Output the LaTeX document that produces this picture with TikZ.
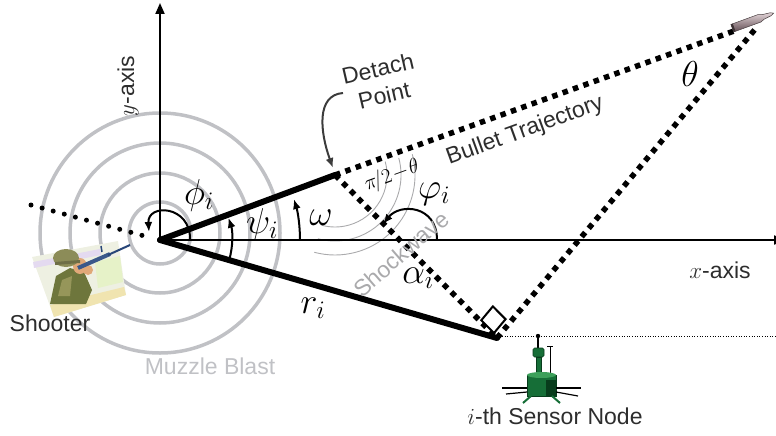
\RequirePackage{fix-cm}
\documentclass[tikz,border=0pt]{standalone}
\usepackage{fontspec}
\setmainfont{Liberation Sans}
\usetikzlibrary{arrows.meta,calc}

\definecolor{blastgray}{RGB}{192,193,197}
\definecolor{wavegray}{RGB}{170,170,172}
\definecolor{labelink}{RGB}{45,45,45}
\definecolor{arrowink}{RGB}{60,60,60}
\definecolor{sensorgreen}{RGB}{22,110,55}
\definecolor{sensordark}{RGB}{8,60,28}
\definecolor{sensorlight}{RGB}{60,160,90}

\tikzset{
  axisline/.style={line width=2pt, -{Triangle[length=11pt,width=9pt]}},
  thickseg/.style={line width=6pt, line cap=round},
  sqdots/.style={line width=5.5pt, dash pattern=on 5.5pt off 5.5pt},
  rdots/.style={line width=5pt, line cap=round, dash pattern=on 0pt off 11.5pt},
  fdots/.style={line width=0.9pt, dash pattern=on 1pt off 1.6pt},
  angarrow/.style={line width=2pt, -{Latex[length=10pt,width=8pt]}},
  blast/.style={draw=blastgray, line width=3.5pt},
  wave/.style={draw=wavegray, line width=0.9pt},
  lab/.style={font=\fontsize{23}{27.6}\selectfont, text=labelink, inner sep=0pt},
  mlab/.style={font=\fontsize{36}{40}\selectfont, inner sep=0pt},
}

\begin{document}
\begin{tikzpicture}[x=1pt,y=-1pt]
\useasboundingbox (0,0) rectangle (776,436);

% key points
\coordinate (O) at (160,240);
\coordinate (C) at (160,233);
\coordinate (D) at (335,175);
\coordinate (S) at (497,338);
\coordinate (Btail) at (734,31);
\coordinate (Bnose) at (757,27);
\coordinate (Ytop) at (160,3);
\coordinate (Xend) at (785,240);
\coordinate (Lft) at (31,205);
\coordinate (Lend) at (148,237);

% muzzle blast rings
\foreach \r in {31,60,90,120} \draw[blast] (C) circle[radius=\r];

% shock wave fronts
\foreach \r in {52,66,80} \draw[wave] ($(D)+(-15:\r)$) arc[start angle=-15, end angle=105, radius=\r];

% shooter clip art
\begin{scope}
  \fill[fill={rgb,255:red,238;green,240;blue,226}] (32,257) -- (118,241) -- (126,295) -- (54,317) -- cycle;
  \fill[fill={rgb,255:red,228;green,218;blue,240}] (33,262) -- (100,249) -- (101,255) -- (34,268) -- cycle;
  \fill[fill={rgb,255:red,230;green,242;blue,200}] (95,262) -- (120,256) -- (123,282) -- (98,288) -- cycle;
  \fill[fill={rgb,255:red,240;green,228;blue,176}] (50,305) -- (124,287) -- (126,295) -- (54,317) -- cycle;
  % body
  \fill[fill={rgb,255:red,110;green,118;blue,60}] (50,304) -- (56,276) -- (70,268) -- (84,272) -- (92,290) -- (86,304) -- cycle;
  \fill[fill={rgb,255:red,150;green,150;blue,90}] (58,296) -- (62,280) -- (72,276) -- (70,296) -- cycle;
  % face and hands
  \fill[fill={rgb,255:red,224;green,168;blue,120}] (80,266) ellipse[x radius=7, y radius=8];
  \fill[fill={rgb,255:red,224;green,168;blue,120}] (88,270) ellipse[x radius=5, y radius=5];
  % helmet
  \fill[fill={rgb,255:red,140;green,140;blue,88}] (66,258) ellipse[x radius=13, y radius=9];
  \fill[fill={rgb,255:red,110;green,110;blue,70}] (55,262) -- (80,260) -- (80,263) -- (55,265) -- cycle;
  % rifle
  \draw[line width=4pt, draw={rgb,255:red,58;green,88;blue,138}] (78,268) -- (110,254);
  \draw[line width=2pt, draw={rgb,255:red,40;green,70;blue,120}] (108,255) -- (130,245);
  \draw[line width=1.5pt, draw={rgb,255:red,40;green,70;blue,120}] (102,252) -- (101,246);
\end{scope}

% axes
\draw[axisline] (O) -- (Ytop);
\draw[axisline] (O) -- (Xend);

% geometry
\draw[rdots] (Lft) -- (Lend);
\draw[sqdots] (D) -- (Btail);
\draw[sqdots] (D) -- (S);
\draw[sqdots] (S) -- (Bnose);
\draw[thickseg] (O) -- (D);
\draw[thickseg] (O) -- (S);
\draw[fdots] ($(S)+(5,-2)$) coordinate (F0) -- (776,336) coordinate (F1);

% right angle mark between the two dotted rays at the sensor
\coordinate (Q0) at (494,333);
\coordinate (Q1) at ($(Q0)+($(S)!18pt!(D)$)-(S)$);
\coordinate (Q3) at ($(Q0)+($(S)!18pt!(Bnose)$)-(S)$);
\draw[line width=2pt, fill=white, line join=miter] (Q0) -- (Q1) -- ($(Q1)+(Q3)-(Q0)$) -- (Q3) -- cycle;

% angle arrows
\draw[angarrow] (190,240) .. controls (191,205) and (147,203) .. (149,232);
\draw[angarrow] ($(O)+(16:72)$) arc[start angle=16, end angle=-18, radius=72];
\draw[angarrow] ($(O)+(0:140)$) arc[start angle=0, end angle=-17, radius=140];
\draw[angarrow] (437,240) .. controls (437,205) and (400,203) .. (383,224);

% bullet
\begin{scope}[shift={(752,21)}, rotate=20]
  \shade[top color={rgb,255:red,226;green,212;blue,216}, bottom color={rgb,255:red,96;green,76;blue,82}, draw={rgb,255:red,70;green,60;blue,62}, line width=0.5pt]
    (-21,-4) -- (8,-4) -- (12,-2.5) -- (20,-1.5) -- (23,0) -- (20,1.5) -- (12,2.5) -- (8,4) -- (-21,4) -- cycle;
  \fill[fill={rgb,255:red,60;green,50;blue,52}] (-21,-4) rectangle (-19,4);
\end{scope}

% sensor node
\begin{scope}
  \fill[black] (538,336) circle[radius=2.2];
  \draw[line width=1.3pt] (538,336) -- (538,349);
  \fill[sensorgreen, draw=sensordark, line width=0.6pt, rounded corners=1.5pt] (533,348) rectangle (544,357);
  \fill[sensorgreen, draw=sensordark, line width=0.6pt] (536,357) rectangle (541,374);
  \draw[line width=1pt] (550,346) -- (550,373);
  \draw[line width=1pt] (547,346) -- (553,346);
  \fill[sensorgreen, draw=sensordark, line width=0.6pt] (527,375) rectangle (556,396);
  \fill[sensorlight] (541.5,375) ellipse[x radius=14.5, y radius=3];
  \fill[sensordark] (546,380) rectangle (556,396);
  \draw[line width=1.6pt] (502,388) -- (527,388);
  \draw[line width=1.6pt] (556,388) -- (581,388);
  \draw[line width=1.2pt] (506,394) -- (527,392);
  \draw[line width=1.2pt] (556,392) -- (578,396);
  \draw[sensorgreen, line width=2pt] (531,396) -- (523,403);
  \draw[sensorgreen, line width=2pt] (552,396) -- (560,403);
\end{scope}

% labels
\node[lab, rotate=90] (ylab) at (128,86) {$y$-axis};
\node[lab] (xlab) at (720,270) {$x$-axis};
\node[lab, rotate=13, align=center] (detach) at (381,82) {Detach\\Point};
\coordinate (dA) at (343,93);
\coordinate (dB) at (333,168);
\draw[draw=arrowink, line width=2pt, -{Latex[length=10pt,width=8pt]}] (dA) .. controls (316,95) and (320,132) .. (dB);
\node[lab, rotate=20] (traj) at (525,131) {Bullet Trajectory};
\node[lab, text=wavegray, rotate=41] (shock) at (401,254) {Shockwave};
\node[lab] (shooter) at (50,323) {Shooter};
\node[lab, text=blastgray] (muzzle) at (210,366) {Muzzle Blast};
\node[lab] (sensor) at (555,416) {$i$-th Sensor Node};

\node[mlab] (theta) at (690,74) {$\theta$};
\node[mlab] (phi) at (199,195) {$\phi_i$};
\node[mlab] (psi) at (262,224) {$\psi_i$};
\node[mlab] (omega) at (321,218) {$\omega$};
\node[mlab] (vphi) at (434,194) {$\varphi_i$};
\node[mlab] (alpha) at (418,278) {$\alpha_i$};
\node[mlab] (r) at (313,308) {$r_i$};
\node[inner sep=0pt, rotate=20, font=\fontsize{21}{24}\selectfont] (half) at (392,176) {$\pi\!/2\!-\!\theta$};
\end{tikzpicture}
\end{document}
